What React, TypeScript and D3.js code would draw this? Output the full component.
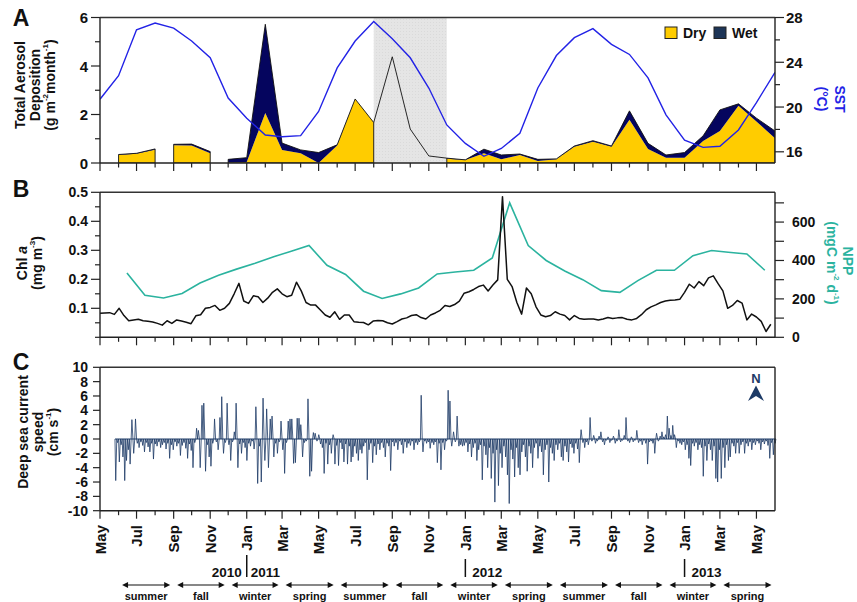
import React from "react";
import * as d3 from "d3";

// ---------------- DATA ----------------
// month index 0 = May 2010 ... 37 = Jun 2013
const monthTickLabels = ["May","Jul","Sep","Nov","Jan","Mar","May","Jul","Sep","Nov","Jan","Mar","May","Jul","Sep","Nov","Jan","Mar","May"];
const seasonNames = ["summer","fall","winter","spring","summer","fall","winter","spring","summer","fall","winter","spring"];
const seasonStartMonth = [1,4,7,10,13,16,19,22,25,28,31,34];
const yearBreakMonth = [8, 20, 32];
const yearLeftLabels = ["2010", "", ""];
const yearRightLabels = ["2011", "2012", "2013"];

// SST (°C), monthly, May 2010 .. Jun 2013
const sstValues = [20.7,22.8,26.9,27.5,27.05,25.9,24.4,20.8,19.0,17.5,17.35,17.45,19.6,23.5,25.9,27.65,26.1,24.4,21.7,18.4,16.75,15.6,16.3,17.65,21.7,24.6,26.2,27.0,25.6,24.7,22.6,19.3,17.05,16.4,16.5,17.95,20.4,23.1];

// aerosol deposition (g m-2 month-1), monthly
const depDry: (number|null)[] = [null,0.33,0.38,0.55,0.73,0.72,0.40,0.02,0.04,2.06,0.54,0.40,0.0,0.72,2.64,1.67,null,null,null,0.18,0.12,0.40,0.15,0.33,0.08,0.15,0.67,0.88,0.67,1.78,0.58,0.22,0.22,0.91,1.32,2.36,1.71,1.02];
const depWet: (number|null)[] = [null,0.02,0.02,0.03,0.04,0.06,0.07,0.13,0.18,3.66,0.28,0.14,0.43,0.03,0.0,0.0,null,null,null,0.02,0.01,0.17,0.18,0.04,0.07,0.02,0.03,0.04,0.03,0.37,0.23,0.11,0.21,0.21,0.87,0.08,0.14,0.30];
const depSegments = [[1,3],[4,6],[7,15],[19,37]];
const depEstimateStart = 15;
const depEstimate = [1.67,4.38,1.40,0.29,0.20];
const shadedStartMonth = 15;
const shadedEndMonth = 19;

// NPP (mgC m-2 d-1), mid-month, Jun 2010 .. May 2013
const nppStartMonth = 1;
const nppValues = [335,219,205,228,283,323,355,385,420,447,478,375,327,240,202,226,257,330,340,349,413,700,478,400,345,300,243,234,295,349,349,425,452,443,434,349];

// Chl a (mg m-3), 8-day composites from 1 May 2010
const chlValues = [
0.083,0.084,0.085,0.079,0.10,0.075,0.057,0.06,0.062,0.057,0.055,0.053,0.048,0.042,0.057,0.048,0.06,0.056,0.052,0.047,
0.074,0.078,0.10,0.103,0.11,0.093,0.10,0.117,0.15,0.186,0.125,0.117,0.143,0.14,0.12,0.135,0.155,0.167,0.15,0.14,
0.145,0.19,0.16,0.12,0.111,0.111,0.094,0.077,0.069,0.088,0.062,0.077,0.077,0.054,0.052,0.051,0.043,0.056,0.058,0.057,
0.05,0.046,0.054,0.063,0.067,0.075,0.078,0.068,0.063,0.077,0.084,0.093,0.11,0.106,0.113,0.125,0.152,0.157,0.165,0.175,
0.18,0.16,0.18,0.198,0.485,0.20,0.175,0.12,0.08,0.17,0.15,0.105,0.077,0.071,0.075,0.088,0.08,0.075,0.06,0.075,
0.065,0.062,0.063,0.063,0.06,0.063,0.068,0.065,0.067,0.068,0.062,0.06,0.065,0.078,0.095,0.105,0.112,0.12,0.125,0.128,
0.129,0.131,0.155,0.183,0.17,0.192,0.178,0.205,0.212,0.185,0.16,0.10,0.11,0.127,0.118,0.06,0.08,0.07,0.055,0.02,
0.045];

// deep-sea current speed (cm s-1), 3-day steps from 26 May 2010
const currentValues = [
-5.8,-0.5,-3.2,-0.8,-2.5,-5.8,-3,-1.5,-3.5,2.7,-2,2.8,-0.6,-1.2,-0.4,-0.9,-1.8,-0.5,-1.1,-1.8,
-0.6,-2.8,-0.7,-1.0,-0.4,-1.2,-0.8,-0.5,-1.4,-0.6,-2.7,-0.8,-1.5,-0.4,-1.0,-0.6,-2.3,-0.9,-0.5,-1.3,
-2.7,-0.7,-1.6,-4.0,-0.5,1.5,1.2,-4.0,4.7,5.0,-4.5,-0.8,-2.5,-3.8,-0.6,2.8,-0.4,-1.5,3.0,5.9,
-2.0,-0.5,5.0,-0.8,-3.0,-0.4,1.0,5.0,-4.0,-0.7,-2.0,-0.5,-1.2,-3.0,-0.6,-1.0,-0.3,-1.4,4.5,-6.2,
-1.0,-6.0,5.7,-3.0,4.2,-4.0,2.8,3.2,-2.5,-0.6,-2.0,-0.4,2.5,-1.5,-4.8,-0.5,2.5,2.8,2.8,-3.4,
-3.3,2.9,2.9,2.0,-2.5,-0.5,-0.3,5.6,-5.2,-4.5,0.9,0.8,-0.3,0.6,-0.7,-1.2,-4.8,-0.6,-3.5,-0.8,
-2.0,0.6,-3.5,-0.9,-3.7,-0.5,-1.4,-3.2,-0.7,-3.5,-1.0,-3.2,-2.5,-1.0,-2.0,-3.0,-1.5,-2.0,-1.0,-0.5,
-5.7,-1.5,-0.6,-3.3,-1.0,-2.2,-0.7,-1.5,-0.5,-1.2,-2.5,-0.6,-1.0,-4.4,-0.4,-1.0,-0.5,-1.5,-0.3,-0.8,
-2.0,-0.4,-1.2,-0.6,-0.9,-0.3,-1.5,-0.5,-0.8,-0.4,6.1,-1.8,-0.3,-0.6,-0.4,-1.3,-0.5,-0.8,-0.4,-3.3,
-0.6,-4.3,-0.5,-1.5,-0.3,6.8,5.3,-1.0,1.0,-0.4,3.2,-1.0,-0.8,-1.0,-0.9,-0.5,-1.8,-0.7,-2.5,-1.2,
-0.6,-3.0,-1.5,-0.8,-5.7,-1.0,-2.2,-4.0,-1.2,-5.5,-2.0,-8.8,-1.5,-6.5,-2.0,-4.0,-1.0,-2.5,-5.0,-9.0,
-1.5,-2.8,-5.3,-1.2,-4.0,-5.0,-1.8,-0.8,-2.5,-4.5,-1.0,-2.0,-4.0,-1.2,-0.6,-2.7,-1.0,-1.8,-5.0,-1.5,
-0.8,-6.0,-1.2,-2.0,-3.0,-0.8,-1.5,-0.6,-2.5,-3.0,-1.0,-1.8,-3.2,-0.7,-1.2,-2.0,-0.6,-1.4,-3.3,1.3,
-0.5,-1.2,-0.4,-0.8,3.0,-0.3,0.5,-0.6,-0.3,0.4,1.0,-0.4,-0.8,-0.2,0.3,-0.5,-0.2,0.4,-0.6,-0.3,
1.3,-0.4,-0.2,0.5,3.0,-0.3,-0.5,0.3,-0.4,-0.2,1.2,-0.5,-0.3,-0.8,-0.2,-0.6,-3.5,-0.4,-0.3,-0.6,
-2.0,0.8,-0.3,0.4,1.0,0.3,0.6,3.2,1.5,0.5,1.9,0.6,-1.2,-0.3,-0.6,-0.8,-0.4,-1.5,-0.8,-2.7,
-3.7,-0.6,-1.0,-0.5,-1.5,-0.8,-1.2,-5.2,-1.0,-3.0,-0.7,-1.5,-3.0,-1.0,-5.5,-6.0,-1.5,-5.5,-1.2,-4.0,
-0.8,-3.0,-2.5,-0.6,-1.0,-2.0,-0.5,-2.0,-0.8,-0.4,-2.0,-0.6,-1.0,-0.4,-1.5,-0.5,-0.8,-0.3,-0.6,-1.5,
-0.4,-0.7,-0.3,-0.9,-2.7,-0.5,-2.2,-0.6];

const depTicks = [0,2,4,6];
const depMinor = [1,3,5];
const sstTicks = [16,20,24,28];
const sstMinor = [18,22,26];
const chlTicks = [0.1,0.2,0.3,0.4,0.5];
const chlMinor = [0,0.05,0.15,0.25,0.35,0.45];
const nppTicks = [0,200,400,600];
const nppMinor = [100,300,500,700];
const curTicks = [-10,-8,-6,-4,-2,0,2,4,6,8,10];

// ---------------- LAYOUT ----------------
const W = 857, H = 602;
const X0 = 100, X1 = 775;
const A_TOP = 17.5, A_BOT = 163;
const B_TOP = 192.3, B_BOT = 337.3;
const C_TOP = 367.3, C_BOT = 510.7;
const FONT = "'Liberation Sans', Arial, Helvetica, sans-serif";
const AX = "#222";
const YELLOW = "#ffcc00";
const NAVY = "#05055e";
const BLUE = "#2323e6";
const TEAL = "#2bb39f";
const CUR = "#1d3a66";

function Txt(p: any) {
  const { x, y, rot = 0, anchor = "middle", size = 14, color = "#111", weight = "bold", style, children } = p;
  return (
    <text transform={`translate(${x},${y}) rotate(${rot})`} textAnchor={anchor} dominantBaseline="central"
      fontFamily={FONT} fontSize={size} fontWeight={weight} fill={color} style={style}>{children}</text>
  );
}

export default function App() {
  const mDate = (i: number) => new Date(2010, 4 + i, 1);
  const midDate = (i: number) => new Date(2010, 4 + i, 15);
  const x = d3.scaleTime().domain([new Date(2010, 4, 1), new Date(2013, 5, 1)]).range([X0, X1]);
  const yA = d3.scaleLinear().domain([0, 6]).range([A_BOT, A_TOP]);
  const ySST = d3.scaleLinear().domain([15, 28]).range([A_BOT, A_TOP]);
  const yChl = d3.scaleLinear().domain([0, 0.5]).range([B_BOT, B_TOP]);
  const yNPP = d3.scaleLinear().domain([0, 755]).range([B_BOT, B_TOP]);
  const yC = d3.scaleLinear().domain([-10, 10]).range([C_BOT, C_TOP]);

  const mx = (i: number) => x(mDate(i));

  const dryArea = d3.area<number>().x(mx).y0(yA(0)).y1(i => yA(depDry[i] as number));
  const wetArea = d3.area<number>().x(mx).y0(i => yA(depDry[i] as number)).y1(i => yA((depDry[i] as number) + (depWet[i] as number)));
  const totArea = d3.area<number>().x(mx).y0(yA(0)).y1(i => yA((depDry[i] as number) + (depWet[i] as number)));
  const estLine = d3.line<number>().x((_, k) => mx(depEstimateStart + k)).y(v => yA(v));
  const sstLine = d3.line<number>().x((_, i) => mx(i)).y(v => ySST(v));
  const nppLine = d3.line<number>().x((_, i) => x(midDate(nppStartMonth + i))).y(v => yNPP(v));
  const chlStart = new Date(2010, 4, 1);
  const chlLine = d3.line<number>().x((_, i) => x(d3.timeDay.offset(chlStart, 8 * i))).y(v => yChl(v));

  // current record: each 3-day sample drawn as an excursion away from the zero baseline
  const curStart = new Date(2010, 4, 26);
  const curPts: [number, number][] = [];
  currentValues.forEach((v, i) => {
    curPts.push([x(d3.timeHour.offset(curStart, 72 * i)), yC(0)]);
    curPts.push([x(d3.timeHour.offset(curStart, 72 * i + 30)), yC(v)]);
  });
  curPts.push([x(d3.timeHour.offset(curStart, 72 * currentValues.length - 12)), yC(0)]);
  const curLine = d3.line<[number, number]>();
  const curX0 = x(curStart);
  const curX1 = x(d3.timeHour.offset(curStart, 72 * currentValues.length - 12));

  const monthIdx = d3.range(0, 37);

  const xTicks = (yb: number, key: string) =>
    monthIdx.map(i => (
      <line key={key + i} x1={mx(i)} x2={mx(i)} y1={yb} y2={yb + (i % 2 === 0 ? 8 : 4.5)} stroke={AX} strokeWidth={1.2} />
    ));

  const frame = (top: number, bot: number, key: string) => (
    <g key={key}>
      <line x1={X0} x2={X1} y1={top} y2={top} stroke="#333" strokeWidth={1.6} />
      <line x1={X0} x2={X1} y1={bot} y2={bot} stroke={AX} strokeWidth={1.4} />
      <line x1={X0} x2={X0} y1={top} y2={bot} stroke={AX} strokeWidth={1.4} />
      <line x1={X1} x2={X1} y1={top} y2={bot} stroke={AX} strokeWidth={1.4} />
    </g>
  );

  const leftTicks = (vals: number[], sc: any, len: number, key: string) =>
    vals.map(v => <line key={key + v} x1={X0 - len} x2={X0} y1={sc(v)} y2={sc(v)} stroke={AX} strokeWidth={1.2} />);
  const rightTicks = (vals: number[], sc: any, len: number, key: string) =>
    vals.map(v => <line key={key + v} x1={X1} x2={X1 + len} y1={sc(v)} y2={sc(v)} stroke={AX} strokeWidth={1.2} />);

  const shadeX0 = mx(shadedStartMonth), shadeX1 = mx(shadedEndMonth);

  return (
    <svg width={W} height={H} viewBox={`0 0 ${W} ${H}`} style={{ position: "absolute", left: 0, top: 0, background: "#fff" }}>
      <defs>
        <pattern id="dots" width="3" height="3" patternUnits="userSpaceOnUse">
          <rect width="3" height="3" fill="#e5e5e5" />
          <rect x="1" y="1" width="1" height="1" fill="#dadada" />
        </pattern>
        <clipPath id="clipA"><rect x={X0} y={A_TOP} width={X1 - X0} height={A_BOT - A_TOP} /></clipPath>
      </defs>

      {/* ---------- PANEL A ---------- */}
      <rect x={shadeX0} y={A_TOP} width={shadeX1 - shadeX0} height={A_BOT - A_TOP} fill="url(#dots)" />
      <g clipPath="url(#clipA)">
        {depSegments.map(([a, b], k) => {
          const idx = d3.range(a, b + 1);
          return (
            <g key={"seg" + k}>
              <path d={dryArea(idx) || ""} fill={YELLOW} />
              <path d={wetArea(idx) || ""} fill={NAVY} />
              <path d={totArea(idx) || ""} fill="none" stroke="#111" strokeWidth={0.9} strokeLinejoin="round" />
            </g>
          );
        })}
        <path d={estLine(depEstimate) || ""} fill="none" stroke="#111" strokeWidth={0.9} />
        <path d={sstLine(sstValues) || ""} fill="none" stroke={BLUE} strokeWidth={1.4} />
      </g>
      {frame(A_TOP, A_BOT, "fa")}
      {xTicks(A_BOT, "xa")}
      {leftTicks(depTicks, yA, 9, "la")}
      {leftTicks(depMinor, yA, 5, "lam")}
      {rightTicks(sstTicks, ySST, 9, "ra")}
      {rightTicks(sstMinor, ySST, 5, "ram")}
      {depTicks.map(v => <Txt key={"dl" + v} x={88} y={yA(v)} anchor="end" size={15}>{v}</Txt>)}
      {sstTicks.map(v => <Txt key={"sl" + v} x={786} y={ySST(v)} anchor="start" size={15}>{v}</Txt>)}
      {/* legend */}
      <rect x={665} y={27} width={12} height={11.5} fill={YELLOW} stroke="#222" strokeWidth={1} />
      <Txt x={683} y={33} anchor="start" size={14}>Dry</Txt>
      <rect x={714} y={27} width={12} height={11.5} fill="#1d3557" stroke="#222" strokeWidth={1} />
      <Txt x={732} y={33} anchor="start" size={14}>Wet</Txt>
      {/* titles */}
      <Txt x={21} y={18} size={23} anchor="middle">A</Txt>
      <Txt x={20} y={85} rot={-90} size={14}>Total Aerosol</Txt>
      <Txt x={35} y={85} rot={-90} size={14}>Deposition</Txt>
      <Txt x={50} y={85} rot={-90} size={14}>(g m<tspan dy={-5} fontSize={8}>-2</tspan><tspan dy={5}>month</tspan><tspan dy={-5} fontSize={8}>-1</tspan><tspan dy={5}>)</tspan></Txt>
      <Txt x={840} y={99} rot={90} size={14} color={BLUE}>SST</Txt>
      <Txt x={822} y={99} rot={90} size={14} color={BLUE}>(°C)</Txt>

      {/* ---------- PANEL B ---------- */}
      <path d={nppLine(nppValues) || ""} fill="none" stroke={TEAL} strokeWidth={1.6} />
      <path d={chlLine(chlValues) || ""} fill="none" stroke="#111" strokeWidth={1.5} strokeLinejoin="round" />
      {frame(B_TOP, B_BOT, "fb")}
      {xTicks(B_BOT, "xb")}
      {leftTicks(chlTicks, yChl, 9, "lb")}
      {leftTicks(chlMinor, yChl, 5, "lbm")}
      {rightTicks(nppTicks, yNPP, 9, "rb")}
      {rightTicks(nppMinor, yNPP, 9, "rbm")}
      {chlTicks.map(v => <Txt key={"cl" + v} x={88} y={yChl(v)} anchor="end" size={14}>{v.toFixed(1)}</Txt>)}
      {nppTicks.map(v => <Txt key={"nl" + v} x={792} y={yNPP(v)} anchor="start" size={14}>{v}</Txt>)}
      <Txt x={21} y={189} size={23}>B</Txt>
      <Txt x={22} y={263} rot={-90} size={14}>Chl <tspan fontStyle="italic">a</tspan></Txt>
      <Txt x={37} y={263} rot={-90} size={14}>(mg m<tspan dy={-5} fontSize={8}>-3</tspan><tspan dy={5}>)</tspan></Txt>
      <Txt x={848} y={261} rot={90} size={14} color={TEAL}>NPP</Txt>
      <Txt x={832} y={263} rot={90} size={14} color={TEAL}>(mgC m<tspan dy={-5} fontSize={8}>-2</tspan><tspan dy={5}> d</tspan><tspan dy={-5} fontSize={8}>-1</tspan><tspan dy={5}>)</tspan></Txt>

      {/* ---------- PANEL C ---------- */}
      <path d={curLine(curPts) || ""} fill="none" stroke={CUR} strokeWidth={0.8} strokeLinejoin="miter" />
      <line x1={curX0} x2={curX1} y1={yC(0)} y2={yC(0)} stroke={CUR} strokeWidth={1.1} />
      {frame(C_TOP, C_BOT, "fc")}
      {xTicks(C_BOT, "xc")}
      {leftTicks(curTicks, yC, 7, "lc")}
      {curTicks.map(v => <Txt key={"ul" + v} x={88} y={yC(v)} anchor="end" size={14}>{v}</Txt>)}
      <Txt x={21} y={362} size={23}>C</Txt>
      <Txt x={22.5} y={432} rot={-90} size={14}>Deep sea current</Txt>
      <Txt x={38} y={432} rot={-90} size={14}>speed</Txt>
      <Txt x={53} y={432} rot={-90} size={14}>(cm s<tspan dy={-5} fontSize={8}>-1</tspan><tspan dy={5}>)</tspan></Txt>
      {/* north arrow */}
      <Txt x={756} y={378} size={13} color={CUR}>N</Txt>
      <path d="M756,385.5 L764,401 L756,396 L748,401 Z" fill={CUR} />

      {/* ---------- TIME AXIS LABELS ---------- */}
      {monthTickLabels.map((lab, k) => (
        <Txt key={"ml" + k} x={mx(2 * k)} y={525} rot={-90} anchor="end" size={15}>{lab}</Txt>
      ))}
      {yearBreakMonth.map((m, k) => (
        <g key={"yb" + k}>
          <line x1={mx(m)} x2={mx(m)} y1={k === 0 ? 555 : 559} y2={577} stroke="#111" strokeWidth={1.5} />
          {yearLeftLabels[k] && <Txt x={mx(m) - 5} y={572} anchor="end" size={13.5}>{yearLeftLabels[k]}</Txt>}
          <Txt x={mx(m) + (k === 0 ? 4 : 7)} y={572} anchor="start" size={13.5}>{yearRightLabels[k]}</Txt>
        </g>
      ))}
      {seasonNames.map((s, k) => {
        const a = mx(seasonStartMonth[k]) + 3.5;
        const b = mx(seasonStartMonth[k] + 3) - 3.5;
        const yy = 585;
        return (
          <g key={"se" + k}>
            <line x1={a + 3} x2={b - 3} y1={yy} y2={yy} stroke="#111" strokeWidth={1.2} />
            <path d={`M${a},${yy} L${a + 6},${yy - 3} L${a + 6},${yy + 3} Z`} fill="#111" />
            <path d={`M${b},${yy} L${b - 6},${yy - 3} L${b - 6},${yy + 3} Z`} fill="#111" />
            <Txt x={(a + b) / 2} y={596} size={11}>{s}</Txt>
          </g>
        );
      })}
    </svg>
  );
}
